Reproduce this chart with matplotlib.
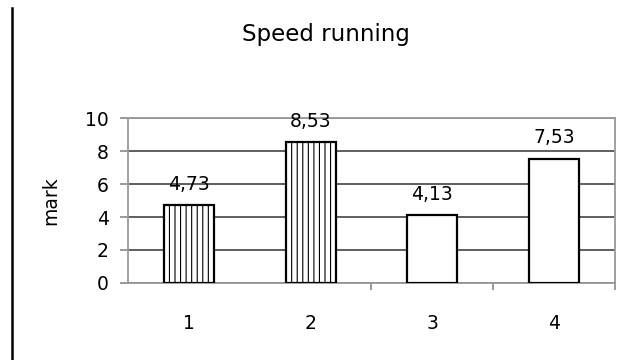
import matplotlib
matplotlib.use("Agg")
import matplotlib.pyplot as plt
from matplotlib.lines import Line2D

runs = ["1", "2", "3", "4"]
marks = [4.73, 8.53, 4.13, 7.53]
hatched = [True, True, False, False]
value_labels = ["4,73", "8,53", "4,13", "7,53"]

plt.rcParams['font.family'] = 'DejaVu Sans'
plt.rcParams['hatch.linewidth'] = 0.8

fig = plt.figure(figsize=(6.22, 3.6), dpi=100)
ax = fig.add_axes([0.2058, 0.2139, 0.7829, 0.4583])

x = list(range(1, len(runs) + 1))
bars = ax.bar(x, marks, width=0.41, color='white', edgecolor='black',
              linewidth=1.6, zorder=3)
for b, h in zip(bars, hatched):
    if h:
        b.set_hatch('|||')

for xi, v, lab in zip(x, marks, value_labels):
    ax.annotate(lab, (xi, v), xytext=(0, 11), textcoords='offset points',
                ha='center', va='baseline', fontsize=13.5)

ax.set_xlim(0.5, 4.5)
ax.set_ylim(0, 10)
ax.set_yticks(range(0, 11, 2))
ax.set_xticks(x)
ax.set_xticklabels(runs)
ax.set_xticks([2.5, 3.5, 4.5], minor=True)
ax.tick_params(axis='x', which='major', length=0, pad=22, labelsize=13.5)
ax.tick_params(axis='x', which='minor', length=5, color='#888888', width=1.2)
ax.tick_params(axis='y', length=6, color='#888888', width=1.2, pad=8, labelsize=13.5)

ax.yaxis.grid(True, color='#333333', linewidth=1.1)
ax.set_axisbelow(True)
for s in ax.spines.values():
    s.set_color('#999999')
    s.set_linewidth(1.3)

ax.set_ylabel('mark', fontsize=13.5, labelpad=18)
fig.text(0.524, 0.905, 'Speed running', ha='center', va='center', fontsize=16.5)

fig.add_artist(Line2D([0.019, 0.019], [0.0, 0.978], color='black', linewidth=1.8,
                      transform=fig.transFigure))

fig.savefig('out.png', dpi=100)
